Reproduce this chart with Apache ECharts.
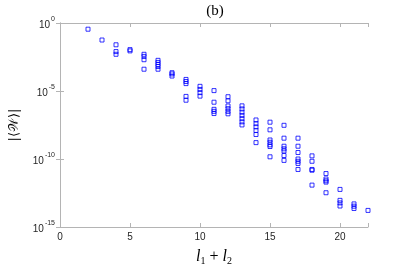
<!DOCTYPE html>
<html>
<head>
<meta charset="utf-8">
<script src="https://cdn.jsdelivr.net/npm/echarts@6/dist/echarts.min.js"></script>
<style>html,body{margin:0;padding:0;background:#fff}#c{width:407px;height:271px}</style>
</head>
<body>
<div id="c"></div>
<script>
// l1 + l2 values (x) and |<W>| values (y)
const lSum = [
  2,
  3,
  4, 4, 4,
  5, 5,
  6, 6, 6, 6,
  7, 7, 7, 7, 7,
  8, 8, 8,
  9, 9, 9, 9, 9,
  10, 10, 10, 10,
  11, 11, 11, 11, 11,
  12, 12, 12, 12, 12, 12,
  13, 13, 13, 13, 13, 13, 13,
  14, 14, 14, 14, 14, 14,
  15, 15, 15, 15, 15, 15, 15,
  16, 16, 16, 16, 16, 16, 16,
  17, 17, 17, 17, 17, 17, 17,
  18, 18, 18, 18, 18,
  19, 19, 19, 19, 19,
  20, 20, 20, 20,
  21, 21, 21,
  22
];
const absW = [
  3.5e-1,
  5.6e-2,
  2.5e-2, 7.9e-3, 5.0e-3,
  1.1e-2, 8.9e-3,
  5.0e-3, 3.5e-3, 2.0e-3, 4.0e-4,
  1.8e-3, 1.26e-3, 8.9e-4, 6.3e-4, 4.0e-4,
  2.2e-4, 1.8e-4, 1.26e-4,
  7.1e-5, 5.0e-5, 3.5e-5, 4.0e-6, 2.1e-6,
  2.2e-5, 1.3e-5, 7.6e-6, 4.2e-6,
  1.07e-5, 1.5e-6, 4.5e-7, 3.2e-7, 2.2e-7,
  3.8e-6, 1.9e-6, 7.9e-7, 5.0e-7, 3.2e-7, 2.1e-7,
  8.1e-7, 4.8e-7, 2.75e-7, 1.6e-7, 9.3e-8, 5.4e-8, 3.2e-8,
  7.4e-8, 4.0e-8, 2.3e-8, 1.26e-8, 6.3e-9, 1.6e-9,
  5.1e-8, 1.4e-8, 2.5e-9, 1.7e-9, 1.1e-9, 8.3e-10, 1.45e-10,
  3.0e-8, 3.4e-9, 8.7e-10, 5.6e-10, 3.9e-10, 1.8e-10, 7.9e-11,
  3.4e-9, 8.7e-10, 3.0e-10, 1.0e-10, 6.8e-11, 4.7e-11, 1.7e-11,
  1.7e-10, 6.8e-11, 1.7e-11, 1.5e-11, 1.2e-12,
  8.5e-12, 3.4e-12, 2.5e-12, 2.0e-12, 3.3e-13,
  5.8e-13, 9.1e-14, 5.9e-14, 3.5e-14,
  5.0e-14, 3.4e-14, 2.3e-14,
  1.66e-14
];
const xTicks = [0, 5, 10, 15, 20];
const yTickExponents = [0, -5, -10, -15];

const axisColor = '#b4b4b4';
const textColor = '#262626';
const data = lSum.map((x, i) => [x, absW[i]]);

const chart = echarts.init(document.getElementById('c'), null, {renderer: 'canvas'});
chart.setOption({
  animation: false,
  backgroundColor: '#fff',
  title: {
    text: '(b)',
    left: 210, top: -1, textAlign: 'center',
    textStyle: {fontFamily: 'Liberation Serif', fontWeight: 'normal', fontSize: 15, color: '#000'}
  },
  grid: {left: 53, right: 39, top: 23, bottom: 36},
  xAxis: [{
    type: 'value', min: 0, max: 22, interval: 5,
    axisLine: {lineStyle: {color: axisColor, width: 1}},
    axisTick: {inside: true, length: 4, lineStyle: {color: axisColor}},
    axisLabel: {color: textColor, fontFamily: 'Liberation Sans', fontSize: 10, margin: 5,
      formatter: v => xTicks.includes(v) ? String(v) : ''},
    splitLine: {show: false},
    name: '{i|l}{s|1}{n| + }{i|l}{s|2}',
    nameLocation: 'middle', nameGap: 21,
    nameTextStyle: {
      rich: {
        i: {fontFamily: 'Liberation Serif', fontStyle: 'italic', fontSize: 16, color: '#000'},
        s: {fontFamily: 'Liberation Serif', fontSize: 10, color: '#000', verticalAlign: 'bottom', padding: [8, 0, 0, 0]},
        n: {fontFamily: 'Liberation Serif', fontSize: 16, color: '#000'}
      }
    }
  }, {
    type: 'value', min: 0, max: 22, interval: 5, position: 'top',
    axisLine: {lineStyle: {color: axisColor, width: 1}},
    axisTick: {inside: true, length: 4, lineStyle: {color: axisColor}},
    axisLabel: {show: false}, splitLine: {show: false}
  }],
  yAxis: [{
    type: 'log', logBase: 10, min: 1e-15, max: 1, interval: 5,
    axisLine: {show: true, lineStyle: {color: axisColor, width: 1}},
    axisTick: {show: true, inside: true, length: 4, lineStyle: {color: axisColor}},
    minorTick: {show: false},
    splitLine: {show: false},
    axisLabel: {
      color: textColor, margin: 5,
      formatter: v => {
        const e = Math.round(Math.log10(v));
        return yTickExponents.includes(e) ? '{b|10}{e|' + (e === 0 ? '0' : '-' + Math.abs(e)) + '}' : '';
      },
      rich: {
        b: {fontFamily: 'Liberation Sans', fontSize: 10, color: textColor, padding: [4, 0, 0, 0]},
        e: {fontFamily: 'Liberation Sans', fontSize: 7, color: textColor, verticalAlign: 'top', padding: [0, 0, 6, 1]}
      }
    },
    name: '|⟨𝒲⟩|',
    nameLocation: 'middle', nameGap: 39, nameRotate: 90,
    nameTextStyle: {fontFamily: 'DejaVu Serif', fontSize: 13, color: '#000'}
  }, {
    type: 'log', logBase: 10, min: 1e-15, max: 1, interval: 5, position: 'right',
    axisLine: {show: true, lineStyle: {color: axisColor, width: 1}},
    axisTick: {show: true, inside: true, length: 4, lineStyle: {color: axisColor}},
    axisLabel: {show: false}, splitLine: {show: false}
  }],
  series: [{
    type: 'scatter',
    xAxisIndex: 0, yAxisIndex: 0,
    symbol: 'rect', symbolSize: 4,
    itemStyle: {color: 'transparent', borderColor: '#0000ff', borderWidth: 1},
    data: data
  }]
});
</script>
</body>
</html>
